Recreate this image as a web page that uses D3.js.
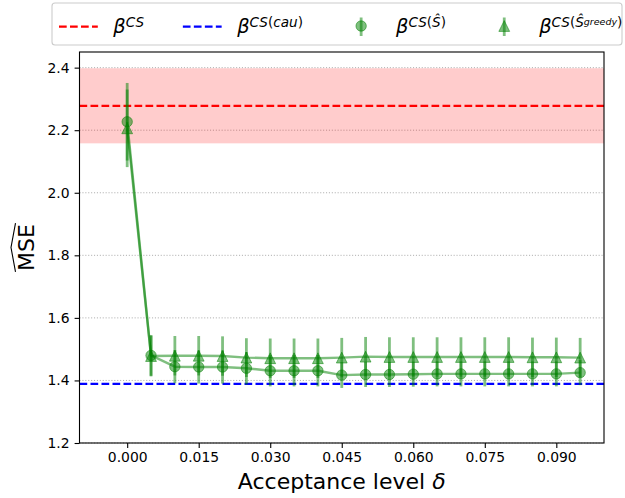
<!DOCTYPE html>
<html>
<head>
<meta charset="utf-8">
<script src="https://cdn.jsdelivr.net/npm/d3@7"></script>
<style>
  html, body { margin: 0; padding: 0; background: #fff; }
  svg { display: block; font-family: "DejaVu Sans", sans-serif; }
</style>
</head>
<body>
<svg id="chart" width="625" height="498"></svg>
<script>
// Acceptance levels on the x axis
const deltas = [0.000, 0.005, 0.010, 0.015, 0.020, 0.025, 0.030, 0.035, 0.040, 0.045,
                0.050, 0.055, 0.060, 0.065, 0.070, 0.075, 0.080, 0.085, 0.090, 0.095];

// Estimated MSE using the selected set S-hat, with error bar half-widths
const mseShat = [2.227, 1.480, 1.444, 1.443, 1.443, 1.439, 1.431, 1.431, 1.431, 1.417,
                 1.419, 1.419, 1.420, 1.421, 1.421, 1.421, 1.421, 1.421, 1.421, 1.425];
const errShat = [0.124, 0.065, 0.053, 0.053, 0.053, 0.052, 0.050, 0.050, 0.050, 0.041,
                 0.040, 0.040, 0.040, 0.040, 0.040, 0.040, 0.040, 0.040, 0.040, 0.040];

// Estimated MSE using the greedy selection, with error bar half-widths
const mseGreedy = [2.206, 1.478, 1.479, 1.479, 1.478, 1.473, 1.471, 1.471, 1.471, 1.473,
                   1.476, 1.475, 1.475, 1.475, 1.475, 1.475, 1.475, 1.474, 1.474, 1.473];
const errGreedy = [0.124, 0.065, 0.063, 0.063, 0.063, 0.062, 0.063, 0.063, 0.063, 0.063,
                   0.063, 0.063, 0.063, 0.063, 0.063, 0.063, 0.063, 0.063, 0.063, 0.063];

// Reference levels: pooled CS estimator (with its band) and the causal CS estimator
const mseCS = 2.278;
const bandCS = [2.158, 2.398];
const mseCau = 1.389;

// Axis ticks
const xTicks = [0.000, 0.015, 0.030, 0.045, 0.060, 0.075, 0.090];
const yTicks = [1.2, 1.4, 1.6, 1.8, 2.0, 2.2, 2.4];
const xDomain = [-0.01, 0.10];
const yDomain = [1.2, 2.45];

// ---------------------------------------------------------------------------
const svg = d3.select("#chart");
const plot = { left: 79.5, right: 604, top: 52, bottom: 443 };

const x = d3.scaleLinear().domain(xDomain).range([plot.left, plot.right]);
const y = d3.scaleLinear().domain(yDomain).range([plot.bottom, plot.top]);

const GREEN = "#008000";
const tickFont = 13.9;

// horizontal dotted grid
svg.append("g")
  .selectAll("line").data(yTicks).join("line")
  .attr("x1", plot.left).attr("x2", plot.right)
  .attr("y1", d => y(d)).attr("y2", d => y(d))
  .attr("stroke", "#b0b0b0").attr("stroke-width", 1)
  .attr("stroke-dasharray", "1.1,1.8");

// CS band and reference lines
svg.append("rect")
  .attr("x", x(xDomain[0])).attr("width", x(xDomain[1]) - x(xDomain[0]))
  .attr("y", y(bandCS[1])).attr("height", y(bandCS[0]) - y(bandCS[1]))
  .attr("fill", "#ff0000").attr("fill-opacity", 0.2);

const refLines = [{ v: mseCS, c: "#ff0000" }, { v: mseCau, c: "#0000ff" }];
svg.append("g").selectAll("line").data(refLines).join("line")
  .attr("x1", plot.left).attr("x2", plot.right)
  .attr("y1", d => y(d.v)).attr("y2", d => y(d.v))
  .attr("stroke", d => d.c).attr("stroke-width", 2.2)
  .attr("stroke-dasharray", "7.7,3.3");

// error-bar series
const series = [
  { mean: mseShat, err: errShat, marker: "circle" },
  { mean: mseGreedy, err: errGreedy, marker: "triangle" }
];

const triPath = s => `M0,${-s}L${s},${s}L${-s},${s}Z`;

function drawMarker(g, kind) {
  if (kind === "circle") {
    g.append("circle").attr("r", 5.2);
  } else {
    g.append("path").attr("d", triPath(5.4));
  }
}

series.forEach(s => {
  const pts = deltas.map((d, i) => ({ d, m: s.mean[i], e: s.err[i] }));
  const g = svg.append("g");
  // vertical error bars
  g.selectAll("line").data(pts).join("line")
    .attr("x1", p => x(p.d)).attr("x2", p => x(p.d))
    .attr("y1", p => y(p.m - p.e)).attr("y2", p => y(p.m + p.e))
    .attr("stroke", GREEN).attr("stroke-opacity", 0.5).attr("stroke-width", 2.8);
  // connecting line
  g.append("path")
    .attr("d", d3.line().x(p => x(p.d)).y(p => y(p.m))(pts))
    .attr("fill", "none").attr("stroke", GREEN).attr("stroke-opacity", 0.5)
    .attr("stroke-width", 2.4).attr("stroke-linejoin", "round");
  // markers
  g.selectAll("g.mk").data(pts).join("g").attr("class", "mk")
    .attr("transform", p => `translate(${x(p.d)},${y(p.m)})`)
    .each(function () { drawMarker(d3.select(this), s.marker); })
    .selectAll("circle,path")
    .attr("fill", GREEN).attr("fill-opacity", 0.5)
    .attr("stroke", GREEN).attr("stroke-opacity", 0.5).attr("stroke-width", 1);
});

// axes frame
svg.append("rect")
  .attr("x", plot.left).attr("y", plot.top)
  .attr("width", plot.right - plot.left).attr("height", plot.bottom - plot.top)
  .attr("fill", "none").attr("stroke", "#000").attr("stroke-width", 1.1);

// x axis
const xAxis = d3.axisBottom(x).tickValues(xTicks).tickFormat(d3.format(".3f"))
  .tickSize(4.9).tickPadding(4.2);
const gx = svg.append("g").attr("transform", `translate(0,${plot.bottom})`).call(xAxis);
gx.select(".domain").remove();
gx.selectAll(".tick line").attr("stroke", "#000").attr("stroke-width", 1.1);
gx.selectAll(".tick text").attr("fill", "#000")
  .style("font-family", "DejaVu Sans").style("font-size", tickFont + "px");

// y axis
const yAxis = d3.axisLeft(y).tickValues(yTicks).tickFormat(d3.format(".1f"))
  .tickSize(4.9).tickPadding(5);
const gy = svg.append("g").attr("transform", `translate(${plot.left},0)`).call(yAxis);
gy.select(".domain").remove();
gy.selectAll(".tick line").attr("stroke", "#000").attr("stroke-width", 1.1);
gy.selectAll(".tick text").attr("fill", "#000")
  .style("font-family", "DejaVu Sans").style("font-size", tickFont + "px");

// x label
const xl = svg.append("text")
  .attr("x", (plot.left + plot.right) / 2).attr("y", 489)
  .attr("text-anchor", "middle").style("font-size", "22px").attr("fill", "#000");
xl.append("tspan").text("Acceptance level ");
xl.append("tspan").style("font-style", "italic").text("δ");

// y label with wide hat
const ylx = 34, yly = (plot.top + plot.bottom) / 2;
const ylab = svg.append("text")
  .attr("transform", `translate(${ylx},${yly}) rotate(-90)`)
  .attr("text-anchor", "middle").style("font-size", "22px").attr("fill", "#000")
  .text("MSE");
const ylw = ylab.node().getComputedTextLength();
svg.append("path")
  .attr("d", `M15.5,${yly + ylw / 2 + 1}L11,${yly}L15.5,${yly - ylw / 2 - 1}`)
  .attr("fill", "none").attr("stroke", "#000").attr("stroke-width", 1.1);

// ---------------------------------------------------------------------------
// legend
const LFS = 19.4;
const levels = [
  { size: LFS, dy: 0 },
  { size: LFS * 0.7, dy: -6 },
  { size: LFS * 0.49, dy: -2.5 }
];
const legendItems = [
  { kind: "line", color: "#ff0000",
    label: [["β", 0, 1], ["CS", 1, 1]] },
  { kind: "line", color: "#0000ff",
    label: [["β", 0, 1], ["CS", 1, 1], ["(", 1, 0], ["cau", 1, 1], [")", 1, 0]] },
  { kind: "circle",
    label: [["β", 0, 1], ["CS", 1, 1], ["(", 1, 0], ["Ŝ", 1, 1], [")", 1, 0]] },
  { kind: "triangle",
    label: [["β", 0, 1], ["CS", 1, 1], ["(", 1, 0], ["Ŝ", 1, 1], ["greedy", 2, 1], [")", 1, 0]] }
];

const legend = svg.append("g");
const box = legend.append("rect")
  .attr("x", 52).attr("y", 3).attr("height", 42).attr("rx", 3)
  .attr("fill", "#fff").attr("fill-opacity", 0.8)
  .attr("stroke", "#cccccc").attr("stroke-width", 1.1);

const handleLen = 2 * LFS, textPad = 0.8 * LFS, colSpace = 2 * LFS;
const rowY = 26, baseY = 33;
let cx = 59;
legendItems.forEach(item => {
  const g = legend.append("g");
  if (item.kind === "line") {
    g.append("line")
      .attr("x1", cx).attr("x2", cx + handleLen).attr("y1", rowY + 0.7).attr("y2", rowY + 0.7)
      .attr("stroke", item.color).attr("stroke-width", 2.2).attr("stroke-dasharray", "7.7,3.3");
  } else {
    const mx = cx + handleLen / 2;
    g.append("line").attr("x1", mx).attr("x2", mx).attr("y1", 17.5).attr("y2", 36)
      .attr("stroke", GREEN).attr("stroke-opacity", 0.5).attr("stroke-width", 2.8);
    const mk = g.append("g").attr("transform", `translate(${mx},${rowY})`);
    drawMarker(mk, item.kind);
    mk.selectAll("circle,path")
      .attr("fill", GREEN).attr("fill-opacity", 0.5)
      .attr("stroke", GREEN).attr("stroke-opacity", 0.5).attr("stroke-width", 1);
  }
  const tx = cx + handleLen + textPad;
  const t = g.append("text").attr("x", tx).attr("y", baseY).attr("fill", "#000");
  item.label.forEach(([str, lv, it]) => {
    t.append("tspan")
      .attr("y", baseY + levels[lv].dy + (lv === 2 ? -6 : 0))
      .style("font-size", levels[lv].size + "px")
      .style("font-style", it ? "italic" : "normal")
      .text(str);
  });
  const w = t.node().getComputedTextLength();
  cx = tx + w + colSpace;
});
box.attr("width", 622 - 52);
</script>
</body>
</html>
